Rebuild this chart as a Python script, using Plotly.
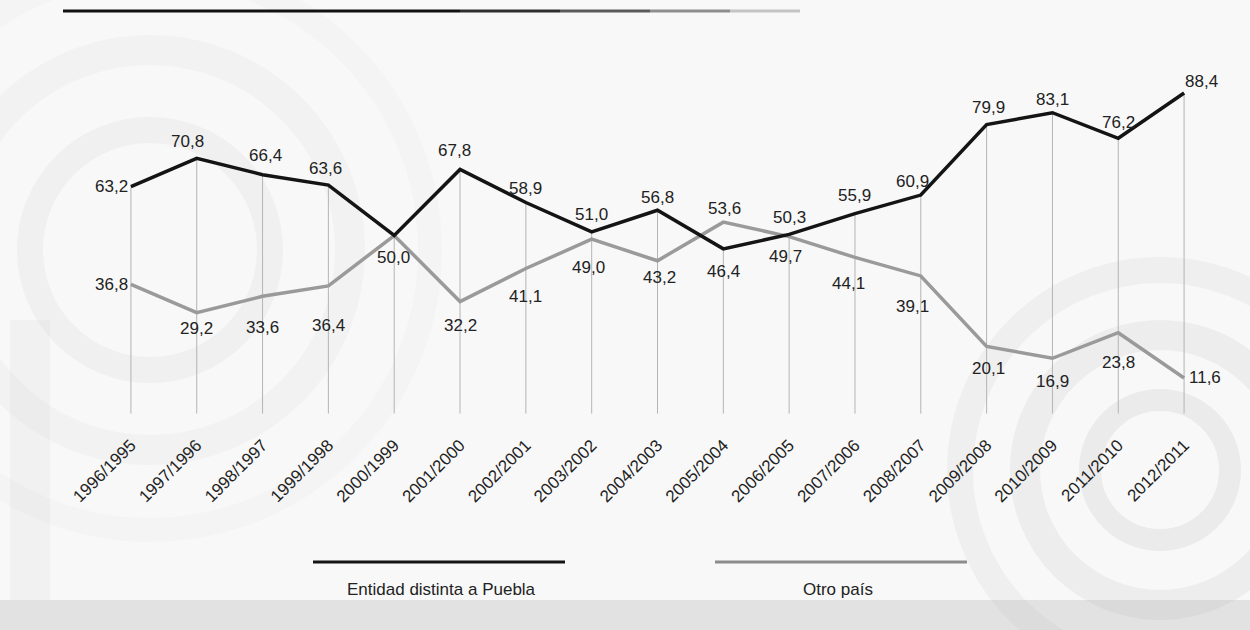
import plotly.graph_objects as go

# ---------------- data ----------------
categories = ["1996/1995", "1997/1996", "1998/1997", "1999/1998", "2000/1999",
              "2001/2000", "2002/2001", "2003/2002", "2004/2003", "2005/2004",
              "2006/2005", "2007/2006", "2008/2007", "2009/2008", "2010/2009",
              "2011/2010", "2012/2011"]
entidad = [63.2, 70.8, 66.4, 63.6, 50.0, 67.8, 58.9, 51.0, 56.8, 46.4,
           50.3, 55.9, 60.9, 79.9, 83.1, 76.2, 88.4]
otro = [36.8, 29.2, 33.6, 36.4, 50.0, 32.2, 41.1, 49.0, 43.2, 53.6,
        49.7, 44.1, 39.1, 20.1, 16.9, 23.8, 11.6]
series_names = ["Entidad distinta a Puebla", "Otro país"]

# ---------------- styles ----------------
W, H = 1250, 630
ML, MR, MT, MB = 98, 33, 50, 209
PW, PH = W - ML - MR, H - MT - MB
FONT = "Liberation Sans, Roboto, Arial, sans-serif"
BLACK = "#141414"
GRAY = "#9a9a9a"
GRID = "#b4b4b4"
GRID_BOTTOM = 2

# label offsets (px) relative to each point: (dx, dy) dy>0 = up
black_off = [(-19, 0), (-9, 17), (3, 19), (-3, 17), (-1, -22), (-6, 19), (0, 14),
             (0, 17), (0, 13), (0, -23), (0, 17), (0, 18), (-8, 14), (2, 17),
             (0, 13), (0, 16), (17, 12)]
gray_off = [(-19, 0), (0, -16), (0, -31), (0, -40), None, (0, -24), (0, -28),
            (-3, -28), (2, -17), (1, 14), (-4, -20), (-6, -26), (-8, -31),
            (2, -22), (0, -23), (0, -30), (21, 0)]


def px(x, y):
    """pixel -> paper coordinates"""
    return (x - ML) / PW, (H - MB - y) / PH


fig = go.Figure()

# vertical guide lines from the black series down to the baseline
gx, gy = [], []
for c, v in zip(categories, entidad):
    gx += [c, c, None]
    gy += [v, GRID_BOTTOM, None]
fig.add_trace(go.Scatter(x=gx, y=gy, mode="lines", line=dict(color=GRID, width=1),
                         hoverinfo="skip", showlegend=False))

fig.add_trace(go.Scatter(x=categories, y=otro, mode="lines", name=series_names[1],
                         line=dict(color=GRAY, width=3.5), showlegend=False))
fig.add_trace(go.Scatter(x=categories, y=entidad, mode="lines", name=series_names[0],
                         line=dict(color=BLACK, width=3.5), showlegend=False))

annotations = []
for vals, offs in ((entidad, black_off), (otro, gray_off)):
    for c, v, o in zip(categories, vals, offs):
        if o is None:
            continue
        annotations.append(dict(x=c, y=v, xref="x", yref="y", text=f"{v:.1f}".replace(".", ","),
                                showarrow=False, xshift=o[0], yshift=o[1],
                                font=dict(family=FONT, size=17, color="#222")))

# legend (manual)
for name, x0, x1, tx in ((series_names[0], 313, 565, 441),
                         (series_names[1], 715, 967, 838)):
    annotations.append(dict(x=px(tx, 0)[0], y=px(0, 589)[1], xref="paper", yref="paper",
                            xanchor="center", yanchor="middle",
                            text=name, showarrow=False,
                            font=dict(family=FONT, size=17, color="#222")))

shapes = []
# background decoration (faint swirls)
shapes.append(dict(type="rect", xref="paper", yref="paper", layer="below",
                   x0=px(0, 0)[0], x1=px(W, 0)[0], y0=px(0, 600)[1], y1=px(0, H)[1],
                   fillcolor="rgba(185,185,185,0.35)", line=dict(width=0)))
shapes.append(dict(type="rect", xref="paper", yref="paper", layer="below",
                   x0=px(10, 0)[0], x1=px(50, 0)[0], y0=px(0, 320)[1], y1=px(0, 600)[1],
                   fillcolor="rgba(200,200,200,0.14)", line=dict(width=0)))
for (cx, cy, r, w, col) in ((1160, 470, 70, 22, "rgba(170,170,170,0.16)"),
                            (1160, 470, 135, 30, "rgba(170,170,170,0.14)"),
                            (1160, 470, 200, 26, "rgba(170,170,170,0.10)"),
                            (150, 250, 120, 26, "rgba(185,185,185,0.11)"),
                            (150, 250, 200, 30, "rgba(185,185,185,0.09)"),
                            (150, 250, 280, 24, "rgba(185,185,185,0.06)")):
    a0, b0 = px(cx - r, cy + r)
    a1, b1 = px(cx + r, cy - r)
    shapes.append(dict(type="circle", xref="paper", yref="paper", layer="below",
                       x0=a0, y0=b0, x1=a1, y1=b1, line=dict(color=col, width=w)))

# top rule with fade
for x0, x1, col in ((63, 460, "#111111"), (460, 560, "#2e2e2e"), (560, 650, "#5a5a5a"),
                    (650, 730, "#8e8e8e"), (730, 800, "#c4c4c4")):
    a0, b = px(x0, 11)
    a1, _ = px(x1, 11)
    shapes.append(dict(type="line", xref="paper", yref="paper", x0=a0, x1=a1, y0=b, y1=b,
                       line=dict(color=col, width=3)))
# legend lines
for color, x0, x1 in ((BLACK, 313, 565), ("#8c8c8c", 715, 967)):
    a0, b = px(x0, 562)
    a1, _ = px(x1, 562)
    shapes.append(dict(type="line", xref="paper", yref="paper", x0=a0, x1=a1, y0=b, y1=b,
                       line=dict(color=color, width=3)))

fig.update_layout(
    width=W, height=H,
    margin=dict(l=ML, r=MR, t=MT, b=MB, autoexpand=False),
    paper_bgcolor="#f8f8f8", plot_bgcolor="rgba(0,0,0,0)",
    showlegend=False,
    annotations=annotations, shapes=shapes,
    xaxis=dict(type="category", range=[-0.5, len(categories) - 0.5], showgrid=False,
               zeroline=False, showline=False, ticks="", tickangle=-45,
               ticklabelstandoff=10,
               tickfont=dict(family=FONT, size=17, color="#222"), automargin=False),
    yaxis=dict(range=[0, 100], showgrid=False, zeroline=False, showline=False,
               showticklabels=False, ticks="", automargin=False),
)

fig.write_html("out.html", config={"displayModeBar": False},
               post_script="document.body.style.margin='0';document.body.style.overflow='hidden';")
